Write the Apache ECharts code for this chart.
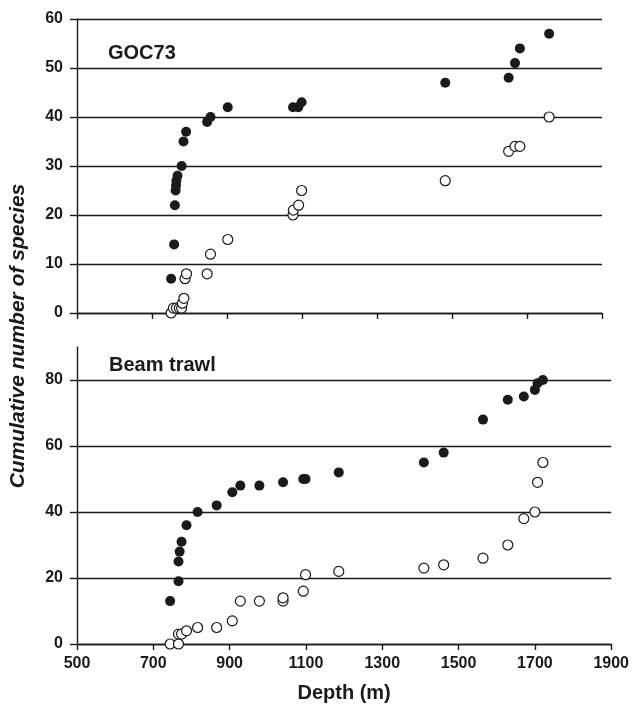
<!DOCTYPE html>
<html>
<head>
<meta charset="utf-8">
<script src="https://cdn.jsdelivr.net/npm/echarts@6/dist/echarts.min.js"></script>
<style>
  html, body { margin: 0; padding: 0; background: #fff; }
  #main { width: 632px; height: 704px; }
</style>
</head>
<body>
<div id="main"></div>
<script>
// GOC73 panel
var gocFilledDepth = [751, 759, 761, 763, 764, 765, 768, 779, 784, 791, 847, 856, 902, 1076, 1090, 1099, 1482, 1651, 1668, 1681, 1759];
var gocFilledCount = [7, 14, 22, 25, 26, 27, 28, 30, 35, 37, 39, 40, 42, 42, 42, 43, 47, 48, 51, 54, 57];
var gocOpenDepth = [751, 757, 765, 773, 779, 781, 785, 788, 792, 847, 856, 902, 1076, 1077, 1091, 1099, 1482, 1651, 1668, 1681, 1759];
var gocOpenCount = [0, 1, 1, 1, 1, 2, 3, 7, 8, 8, 12, 15, 20, 21, 22, 25, 27, 33, 34, 34, 40];

// Beam trawl panel
var beamFilledDepth = [744, 766, 766, 769, 774, 787, 816, 866, 907, 928, 978, 1040, 1093, 1099, 1186, 1409, 1461, 1564, 1629, 1671, 1700, 1707, 1721];
var beamFilledCount = [13, 19, 25, 28, 31, 36, 40, 42, 46, 48, 48, 49, 50, 50, 52, 55, 58, 68, 74, 75, 77, 79, 80];
var beamOpenDepth = [744, 766, 766, 774, 787, 816, 866, 907, 928, 978, 1040, 1040, 1093, 1099, 1186, 1409, 1461, 1564, 1629, 1671, 1700, 1707, 1721];
var beamOpenCount = [0, 0, 3, 3, 4, 5, 5, 7, 13, 13, 13, 14, 16, 21, 22, 23, 24, 26, 30, 38, 40, 49, 55];

var beamTicks = [0, 20, 40, 60, 80];

function pairs(xs, ys) {
  return xs.map(function (x, i) { return [x, ys[i]]; });
}

var myChart = echarts.init(document.getElementById('main'));

var fontBase = 'Liberation Sans, Arial, sans-serif';
var ink = '#1a1a1a';
var axisBlack = { color: ink, width: 1.4 };

var filledStyle = { color: ink, opacity: 1 };
var openStyle = { color: '#fff', borderColor: ink, borderWidth: 1.2, opacity: 1 };

var labelStyle = { fontFamily: fontBase, fontWeight: 'bold', fontSize: 16, color: ink };

var option = {
  backgroundColor: '#fff',
  animation: false,
  grid: [
    { left: 77, right: 30, top: 19, height: 294 },
    { left: 77, right: 19, top: 347, bottom: 60 }
  ],
  xAxis: [
    {
      gridIndex: 0, type: 'value', min: 500, max: 1900, interval: 200,
      axisLine: { lineStyle: axisBlack },
      axisTick: { show: true, length: 6, lineStyle: axisBlack },
      axisLabel: { show: false },
      splitLine: { show: false }
    },
    {
      gridIndex: 1, type: 'value', min: 500, max: 1900, interval: 200,
      name: 'Depth (m)', nameLocation: 'middle', nameGap: 39,
      nameTextStyle: { fontFamily: fontBase, fontWeight: 'bold', fontSize: 20, color: ink },
      axisLine: { lineStyle: axisBlack },
      axisTick: { show: true, length: 6, lineStyle: axisBlack },
      axisLabel: Object.assign({ margin: 12, formatter: function (v) { return String(v); } }, labelStyle),
      splitLine: { show: false }
    }
  ],
  yAxis: [
    {
      gridIndex: 0, type: 'value', min: 0, max: 60, interval: 10,
      axisLine: { show: true, lineStyle: axisBlack },
      axisTick: { show: true, length: 7, lineStyle: axisBlack },
      axisLabel: Object.assign({ margin: 14 }, labelStyle),
      splitLine: { show: true, lineStyle: { color: ink, width: 1.4 } }
    },
    {
      gridIndex: 1, type: 'value', min: 0, max: 90, interval: 20,
      axisLine: { show: true, lineStyle: axisBlack },
      axisTick: { show: true, length: 7, customValues: beamTicks, lineStyle: axisBlack },
      axisLabel: Object.assign({ margin: 14, customValues: beamTicks }, labelStyle),
      splitLine: { show: true, lineStyle: { color: [ink, ink, ink, ink, ink, 'rgba(0,0,0,0)'], width: 1.4 } }
    }
  ],
  graphic: [
    {
      type: 'text', left: 108, top: 43,
      style: { text: 'GOC73', font: 'bold 20px ' + fontBase, fill: ink }
    },
    {
      type: 'text', left: 109, top: 355,
      style: { text: 'Beam trawl', font: 'bold 20px ' + fontBase, fill: ink }
    },
    {
      type: 'text', x: 18, y: 336, rotation: Math.PI / 2,
      style: {
        text: 'Cumulative number of species', font: 'italic bold 21px ' + fontBase,
        fill: ink, align: 'center', verticalAlign: 'middle'
      }
    }
  ],
  series: [
    {
      type: 'scatter', xAxisIndex: 0, yAxisIndex: 0, symbolSize: 10,
      data: pairs(gocOpenDepth, gocOpenCount), itemStyle: openStyle
    },
    {
      type: 'scatter', xAxisIndex: 0, yAxisIndex: 0, symbolSize: 10,
      data: pairs(gocFilledDepth, gocFilledCount), itemStyle: filledStyle
    },
    {
      type: 'scatter', xAxisIndex: 1, yAxisIndex: 1, symbolSize: 10,
      data: pairs(beamOpenDepth, beamOpenCount), itemStyle: openStyle
    },
    {
      type: 'scatter', xAxisIndex: 1, yAxisIndex: 1, symbolSize: 10,
      data: pairs(beamFilledDepth, beamFilledCount), itemStyle: filledStyle
    }
  ]
};

myChart.setOption(option);
</script>
</body>
</html>
